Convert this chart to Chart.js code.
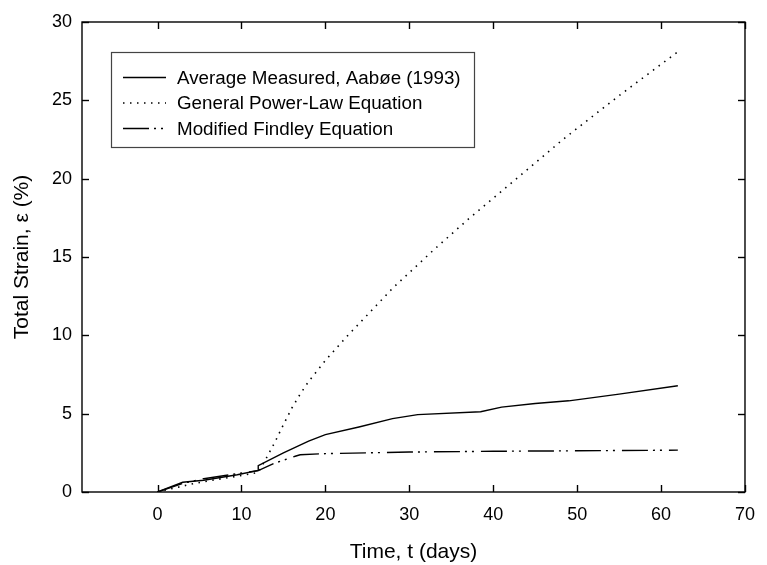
<!DOCTYPE html>
<html>
<head>
<meta charset="utf-8">
<script src="https://cdn.jsdelivr.net/npm/chart.js@4/dist/chart.umd.min.js"></script>
<style>
  html, body { margin:0; padding:0; background:#fff; }
</style>
</head>
<body>
<canvas id="chart" width="767" height="565"></canvas>
<script>
// ====== DATA ======
const measuredT      = [0, 3, 5.5, 9.5, 12, 12, 15, 18, 20, 24, 28, 31, 38.5, 41, 45, 49, 55, 62];
const measuredStrain = [0, 0.62, 0.75, 1.1, 1.38, 1.68, 2.5, 3.25, 3.66, 4.15, 4.68, 4.94, 5.12, 5.42, 5.65, 5.82, 6.25, 6.78];

const powerT      = [0, 2, 4, 6, 8, 10, 12, 13, 14, 15, 16, 17, 18, 20, 22.6, 25, 28, 33, 37, 43, 48.3, 55, 62];
const powerStrain = [0, 0.25, 0.5, 0.7, 0.88, 1.05, 1.25, 2.2, 3.2, 4.3, 5.35, 6.25, 7.05, 8.4, 9.95, 11.3, 13.0, 15.5, 17.4, 20.1, 22.5, 25.3, 28.1];

const findleyT      = [0, 3, 5.5, 9.5, 12, 14, 16.5, 17, 20, 25, 30, 40, 50, 62];
const findleyStrain = [0, 0.55, 0.85, 1.17, 1.36, 1.85, 2.3, 2.38, 2.45, 2.5, 2.55, 2.6, 2.63, 2.67];

const seriesNames = ['Average Measured, Aabøe (1993)', 'General Power-Law Equation', 'Modified Findley Equation'];
const xTicks = [0, 10, 20, 30, 40, 50, 60, 70];
const yTicks = [0, 5, 10, 15, 20, 25, 30];

// ====== HELPERS ======
const toPoints = (xs, ys) => xs.map((x, i) => ({ x, y: ys[i] }));
const FONT = 'Liberation Sans, Arial, Helvetica, sans-serif';

const dashes = [[], [1.5, 5.5], [26, 5, 2, 5, 2, 7]];

// frame + inward ticks on all four sides
const framePlugin = {
  id: 'frame',
  afterDatasetsDraw(chart) {
    const { ctx, chartArea: a, scales: { x, y } } = chart;
    const seg = (x1, y1, x2, y2) => { ctx.beginPath(); ctx.moveTo(x1, y1); ctx.lineTo(x2, y2); ctx.stroke(); };
    ctx.save();
    ctx.strokeStyle = '#000';
    ctx.lineWidth = 1.4;
    ctx.strokeRect(a.left, a.top, a.right - a.left, a.bottom - a.top);
    x.ticks.forEach(t => {
      const px = Math.round(x.getPixelForValue(t.value)) + 0.5;
      seg(px, a.bottom, px, a.bottom - 7);
      seg(px, a.top, px, a.top + 7);
    });
    y.ticks.forEach(t => {
      const py = Math.round(y.getPixelForValue(t.value)) + 0.5;
      seg(a.left, py, a.left + 7, py);
      seg(a.right, py, a.right - 7, py);
    });
    ctx.restore();
  }
};

// boxed legend inside the plot
const legendPlugin = {
  id: 'boxLegend',
  afterDraw(chart) {
    const { ctx } = chart;
    const box = { l: 111, t: 52, r: 474, b: 147 };
    ctx.save();
    ctx.strokeStyle = '#444';
    ctx.lineWidth = 1.2;
    ctx.strokeRect(box.l + 0.5, box.t + 0.5, box.r - box.l, box.b - box.t);
    ctx.font = '18.8px ' + FONT;
    ctx.fillStyle = '#000';
    ctx.textBaseline = 'middle';
    chart.data.datasets.forEach((ds, i) => {
      const yy = 77.5 + i * 25.5;
      ctx.strokeStyle = '#000';
      ctx.lineWidth = ds.borderWidth;
      ctx.setLineDash(ds.borderDash || []);
      ctx.beginPath(); ctx.moveTo(123, yy); ctx.lineTo(166, yy); ctx.stroke();
      ctx.setLineDash([]);
      ctx.fillText(ds.label, 177, yy + 1);
    });
    ctx.restore();
  }
};

const mkSet = (label, pts, i) => ({
  label, data: pts, showLine: true, fill: false,
  borderColor: '#000', borderWidth: i === 1 ? 1.6 : 1.4,
  borderDash: dashes[i], borderCapStyle: 'butt',
  pointRadius: 0, tension: 0
});

new Chart(document.getElementById('chart'), {
  type: 'scatter',
  data: {
    datasets: [
      mkSet(seriesNames[0], toPoints(measuredT, measuredStrain), 0),
      mkSet(seriesNames[1], toPoints(powerT, powerStrain), 1),
      mkSet(seriesNames[2], toPoints(findleyT, findleyStrain), 2)
    ]
  },
  options: {
    responsive: false,
    animation: false,
    devicePixelRatio: 1,
    layout: { padding: { top: 22, right: 13, left: 0, bottom: 0 } },
    plugins: { legend: { display: false }, tooltip: { enabled: false } },
    scales: {
      x: {
        type: 'linear', min: -9, max: 70,
        afterBuildTicks: s => { s.ticks = xTicks.map(v => ({ value: v })); },
        afterFit: s => { s.height = 73; },
        grid: { display: false, drawTicks: false }, border: { display: false },
        ticks: { color: '#000', padding: 12, font: { family: FONT, size: 18 } },
        title: { display: true, text: 'Time, t (days)', color: '#000',
                 font: { family: FONT, size: 21 }, padding: { top: 0, bottom: 0 } }
      },
      y: {
        type: 'linear', min: 0, max: 30,
        afterBuildTicks: s => { s.ticks = yTicks.map(v => ({ value: v })); },
        afterFit: s => { s.width = 82; },
        grid: { display: false, drawTicks: false }, border: { display: false },
        ticks: { color: '#000', padding: 10, font: { family: FONT, size: 18 } },
        title: { display: true, text: 'Total Strain, ε (%)', color: '#000',
                 font: { family: FONT, size: 21 }, padding: { top: 10, bottom: 0 } }
      }
    }
  },
  plugins: [framePlugin, legendPlugin]
});
</script>
</body>
</html>
